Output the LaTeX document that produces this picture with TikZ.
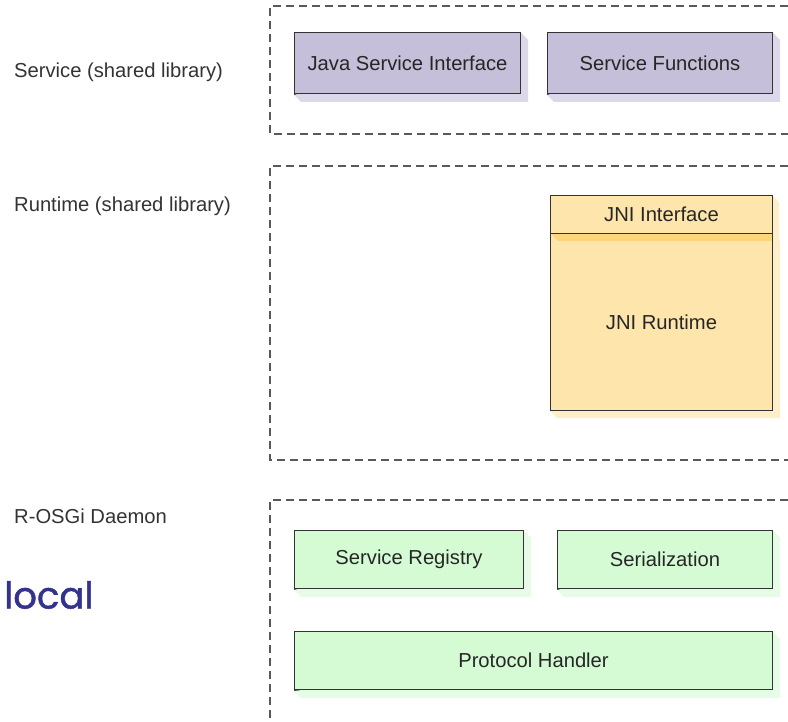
\documentclass[tikz,border=0pt]{standalone}
\usepackage{fontspec}
\setmainfont{Liberation Sans}
\newfontfamily\handfont[FakeBold=1.2]{Poppins}
\begin{document}
\begin{tikzpicture}[x=1pt,y=-1pt,
  lbl/.style={font=\fontsize{20.2}{24}\selectfont, text=black!80, inner sep=0pt, anchor=west},
  frame/.style={draw=black!65, line width=1.2pt, dash pattern=on 8pt off 5pt},
  box/.style={draw=black!80, line width=1pt, anchor=north west, inner sep=0pt,
    font=\fontsize{20.2}{24}\selectfont, text=black!85},
  purplebox/.style={box, fill=lavfill},
  yellowbox/.style={box, fill=yelfill},
  greenbox/.style={box, fill=grnfill}]
\definecolor{lavfill}{HTML}{C5BFD9}
\definecolor{lavshade}{HTML}{DCD8E9}
\definecolor{yelfill}{HTML}{FDE5AB}
\definecolor{yelshade}{HTML}{FDEFC8}
\definecolor{yelband}{HTML}{FCD47A}
\definecolor{grnfill}{HTML}{D5FBD5}
\definecolor{grnshade}{HTML}{E6FCE6}
\definecolor{localblue}{HTML}{34338C}

\useasboundingbox (0,0) rectangle (788,722);

% extruded side shadow behind a box
\newcommand{\boxshade}[2]{%
  \fill[#2] (#1.north east) -- ++(7,7) -- ([shift={(7,7)}]#1.south east)
    -- ([shift={(7,7)}]#1.south west) -- (#1.south west) -- cycle;}

% layer frames, open on the right
\draw[frame] (788,6) -- (270,6) -- (270,134) -- (788,134);
\draw[frame] (788,166) -- (270,166) -- (270,460) -- (788,460);
\draw[frame] (788,500) -- (270,500) -- (270,722);

% layer labels
\node[lbl] (svclbl) at (14,72) {Service (shared library)};
\node[lbl] (rtlbl) at (14,206) {Runtime (shared library)};
\node[lbl] (daemonlbl) at (14,516) {R-OSGi Daemon};
\node[anchor=west, inner sep=0pt, text=localblue,
  font=\handfont\fontsize{37}{44}\selectfont] (local) at (4,595) {local};

% service layer
\node[purplebox, minimum width=226pt, minimum height=61pt] (jsi) at (294,33) {};
\node[purplebox, minimum width=225pt, minimum height=61pt] (sfn) at (547,33) {};
\boxshade{jsi}{lavshade}
\boxshade{sfn}{lavshade}
\node[purplebox, minimum width=226pt, minimum height=61pt] at (294,32.5) {Java Service Interface};
\node[purplebox, minimum width=225pt, minimum height=61pt] at (547,32.5) {Service Functions};

% runtime layer
\node[yellowbox, minimum width=222pt, minimum height=177pt] (jnirt) at (550,233) {};
\boxshade{jnirt}{yelshade}
\fill[yelshade] (772,195) -- (779,202) -- (779,240) -- (772,233) -- cycle;
\node[yellowbox, minimum width=222pt, minimum height=177pt] (jnibody) at (550,233) {JNI Runtime};
\fill[yelband] (551,233.5) -- (771.5,233.5) -- (771.5,241) -- (558,241) -- cycle;
\node[yellowbox, minimum width=222pt, minimum height=38pt] (jniif) at (550,195) {JNI Interface};

% daemon layer
\node[greenbox, minimum width=229pt, minimum height=58pt] (reg) at (294,531) {};
\node[greenbox, minimum width=215pt, minimum height=58pt] (ser) at (557,531) {};
\node[greenbox, minimum width=478pt, minimum height=58pt] (proto) at (294,632) {};
\boxshade{reg}{grnshade}
\boxshade{ser}{grnshade}
\boxshade{proto}{grnshade}
\node[greenbox, minimum width=229pt, minimum height=58pt] at (294,530) {Service Registry};
\node[greenbox, minimum width=215pt, minimum height=58pt] at (557,530) {Serialization};
\node[greenbox, minimum width=478pt, minimum height=58pt] at (294,631) {Protocol Handler};
\end{tikzpicture}
\end{document}
